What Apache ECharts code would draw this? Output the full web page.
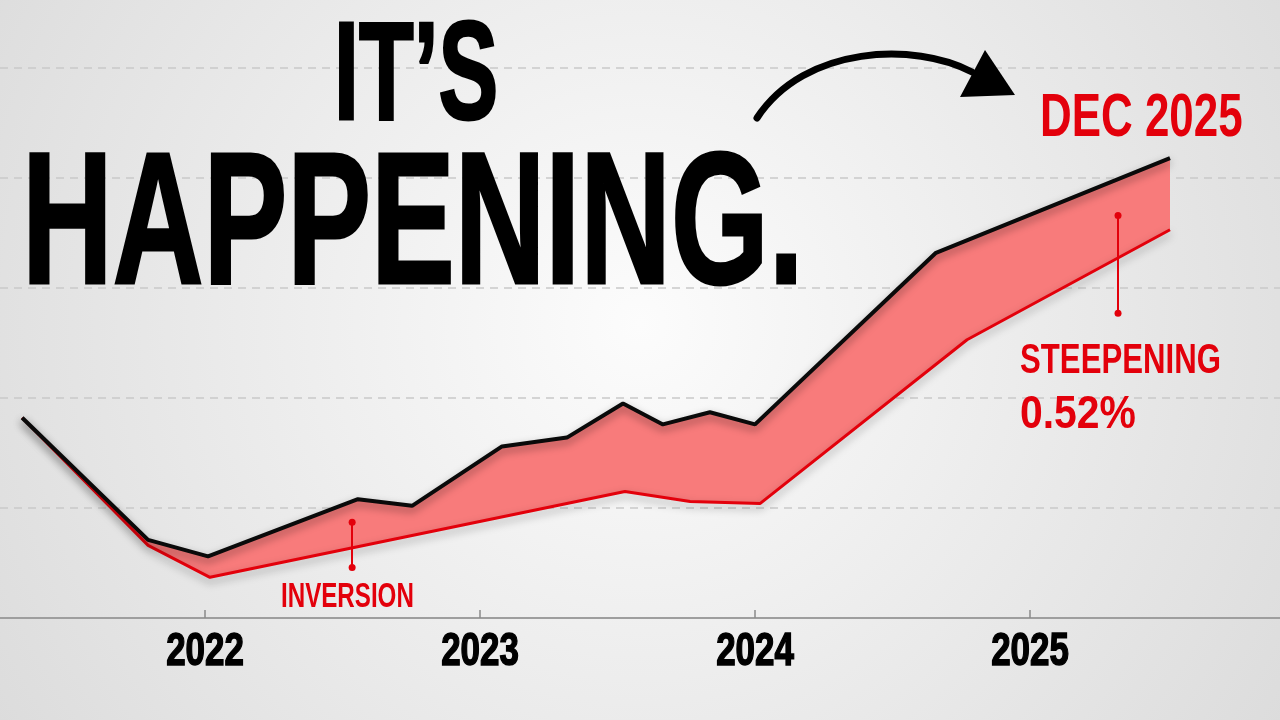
<!DOCTYPE html>
<html>
<head>
<meta charset="utf-8">
<script src="https://cdn.jsdelivr.net/npm/echarts@6/dist/echarts.min.js"></script>
<style>html,body{margin:0;padding:0;}#chart{width:1280px;height:720px;}</style>
</head>
<body>
<div id="chart"></div>
<script>
// Upper line (black) — x in fractional years, y in chart units
const topX = [2021.335, 2021.793, 2022.011, 2022.556, 2022.753, 2023.080, 2023.316, 2023.520, 2023.665, 2023.836, 2024.000, 2024.658, 2025.509];
const topY = [1.82, 0.71, 0.56, 1.08, 1.02, 1.56, 1.64, 1.95, 1.76, 1.87, 1.76, 3.32, 4.18];
// Lower line (red)
const botX = [2021.335, 2021.793, 2022.018, 2023.527, 2023.764, 2024.018, 2024.771, 2025.509];
const botY = [1.82, 0.66, 0.37, 1.15, 1.06, 1.04, 2.53, 3.53];
// Tick labels
const years = [2022, 2023, 2024, 2025];
// Annotation markers (data coords)
const inversionMark = [[2022.535, 0.87], [2022.535, 0.46]];
const steepMark = [[2025.320, 3.66], [2025.320, 2.77]];

const RED = '#e3000b';
const chart = echarts.init(document.getElementById('chart'), null, {renderer: 'canvas'});

function txt(text, x, y, size, sx, color, extra) {
  return {
    type: 'text', x: x, y: y, scaleX: sx, z: 100, silent: true,
    style: Object.assign({
      text: text, font: 'bold ' + size + 'px "Liberation Sans", Arial, sans-serif',
      fill: color, textAlign: 'left', textVerticalAlign: 'middle'
    }, extra || {})
  };
}
const titleShadow = {shadowColor: 'rgba(0,0,0,0.45)', shadowBlur: 3, shadowOffsetX: 4, shadowOffsetY: 4, stroke: '#000', lineWidth: 3};

const option = {
  animation: false,
  backgroundColor: {
    type: 'radial', x: 0.5, y: 0.45, r: 1.05,
    colorStops: [{offset: 0, color: '#fcfcfc'}, {offset: 1, color: '#dcdcdc'}]
  },
  grid: {left: 0, right: 0, top: 68, bottom: 102, containLabel: false},
  xAxis: {
    type: 'value', min: 2021.2545, max: 2025.909,
    splitLine: {show: false},
    axisLine: {show: true, lineStyle: {color: '#9e9e9e', width: 2}},
    axisTick: {show: true, inside: true, length: 8, customValues: years, lineStyle: {color: '#8a8a8a', width: 1.5}},
    axisLabel: {show: false, customValues: years}
  },
  yAxis: {
    type: 'value', min: 0, max: 5, interval: 1,
    axisLine: {show: false}, axisTick: {show: false}, axisLabel: {show: false},
    splitLine: {show: true, lineStyle: {color: '#c9c9c9', width: 1.5, type: [8, 6]}}
  },
  series: [
    {
      type: 'custom', name: 'spread', z: 2, silent: true,
      data: [[topX[0], topY[0]]],
      renderItem: function (params, api) {
        const pts = [];
        for (let i = 0; i < topX.length; i++) pts.push(api.coord([topX[i], topY[i]]));
        for (let i = botX.length - 1; i >= 0; i--) pts.push(api.coord([botX[i], botY[i]]));
        return {type: 'polygon', shape: {points: pts}, style: {fill: '#f87b7b'}};
      }
    },
    {
      type: 'line', name: 'lower', z: 3, symbol: 'none', silent: true,
      data: botX.map((x, i) => [x, botY[i]]),
      lineStyle: {color: RED, width: 3, shadowColor: 'rgba(0,0,0,0.35)', shadowBlur: 8, shadowOffsetY: 4},
      markLine: {
        silent: true, symbol: ['circle', 'circle'], symbolSize: 7,
        label: {show: false},
        lineStyle: {color: RED, width: 2, type: 'solid', shadowBlur: 0},
        data: [
          [{coord: inversionMark[0]}, {coord: inversionMark[1]}],
          [{coord: steepMark[0]}, {coord: steepMark[1]}]
        ]
      }
    },
    {
      type: 'line', name: 'upper', z: 4, symbol: 'none', silent: true,
      data: topX.map((x, i) => [x, topY[i]]),
      lineStyle: {color: '#0a0a0a', width: 4, shadowColor: 'rgba(0,0,0,0.4)', shadowBlur: 8, shadowOffsetY: 4}
    }
  ]
};
chart.setOption(option);

// Year tick labels placed through the x axis scale
const axisY = chart.convertToPixel({yAxisIndex: 0}, 0);
const yearLabels = years.map(function (yv) {
  const px = chart.convertToPixel({xAxisIndex: 0}, yv);
  return txt(String(yv), px, axisY + 34, 46, 0.76, '#000',
    {textAlign: 'center', stroke: '#000', lineWidth: 1.5, shadowColor: 'rgba(0,0,0,0.3)', shadowBlur: 2, shadowOffsetX: 2, shadowOffsetY: 2});
});

chart.setOption({
  graphic: [
    txt('IT\u2019S', 334, 80, 140, 0.64, '#000', titleShadow),
    txt('HAPPENING.', 22, 231, 188, 0.668, '#000', titleShadow),
    txt('DEC 2025', 1040, 119, 61, 0.72, RED),
    txt('STEEPENING', 1020, 361, 43, 0.725, RED),
    txt('0.52%', 1020, 415, 47, 0.87, RED),
    txt('INVERSION', 281, 597, 35, 0.69, RED),
    {
      type: 'bezierCurve', z: 100, silent: true,
      shape: {x1: 757, y1: 118, cpx1: 805, cpy1: 45, cpx2: 915, cpy2: 42, x2: 972, y2: 72},
      style: {stroke: '#000', lineWidth: 7, fill: null, lineCap: 'round'}
    },
    {
      type: 'polygon', z: 100, silent: true,
      shape: {points: [[985, 50], [960, 97], [1015, 95]]},
      style: {fill: '#000'}
    }
  ].concat(yearLabels)
});
</script>
</body>
</html>
